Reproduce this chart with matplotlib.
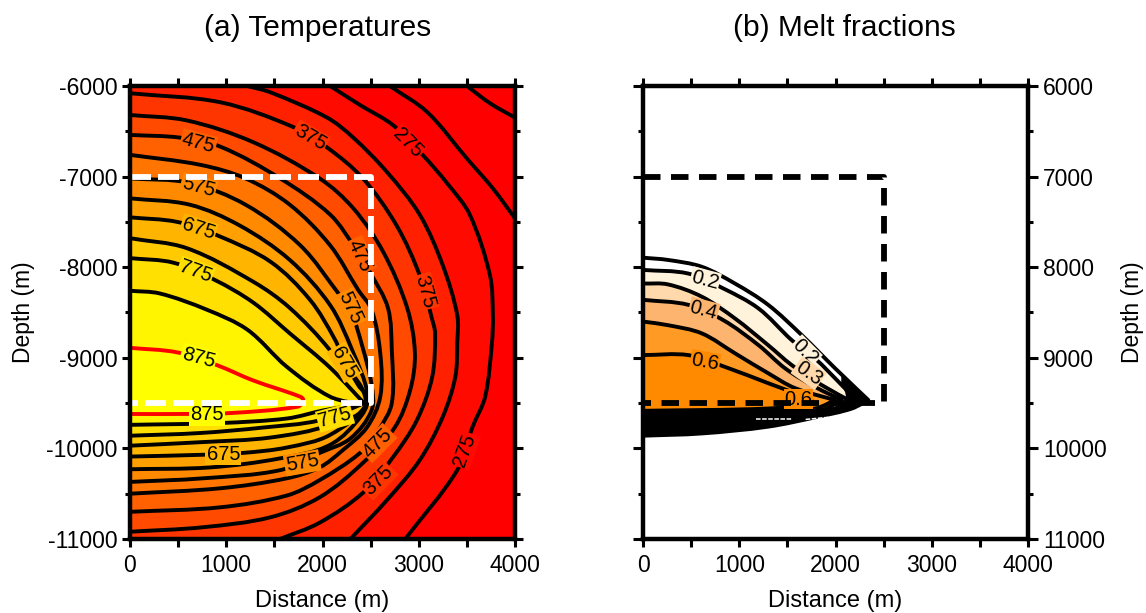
import numpy as np
import matplotlib
matplotlib.use('Agg')
import matplotlib.pyplot as plt
from matplotlib.colors import LinearSegmentedColormap
from matplotlib.path import Path
from matplotlib.patches import PathPatch

plt.rcParams['font.family'] = ['Liberation Sans', 'DejaVu Sans']

# panel (a): isotherms, (distance m, depth m)
T175 = [(3500, -6000), (3740, -6190), (4000, -6350)]
T225 = [(2700, -6000), (3090, -6290), (3500, -6800), (3770, -7130), (4000, -7460)]
T275 = [(2080, -6000), (2390, -6210), (2730, -6430), (3040, -6760), (3300, -7080), (3530, -7420), (3740, -8090),
        (3770, -8530), (3760, -8840), (3690, -9430), (3560, -9760), (3400, -10240), (2860, -11000)]
T325 = [(1220, -6000), (1460, -6070), (2050, -6350), (2320, -6570), (2670, -6950), (3010, -7420), (3250, -7980),
        (3400, -8530), (3400, -8840), (3380, -9210), (3250, -9650), (3010, -10130), (2670, -10570), (2290, -11000)]
T375 = [(0, -6080), (940, -6180), (1690, -6450), (2050, -6680), (2420, -7020), (2770, -7540), (3010, -8090),
        (3140, -8580), (3170, -8730), (3140, -9210), (2980, -9690), (2730, -10100), (2420, -10490),
        (1970, -10820), (1560, -11000)]
T425 = [(0, -6320), (590, -6380), (1280, -6620), (1970, -7020), (2320, -7350), (2630, -7830), (2880, -8450),
        (2960, -8950), (2910, -9360), (2750, -9770), (2420, -10160), (1970, -10540), (1460, -10760),
        (760, -10870), (0, -10920)]
T475 = [(0, -6540), (520, -6570), (940, -6670), (1560, -7020), (2080, -7420), (2340, -7790), (2490, -8050),
        (2680, -8450), (2720, -8920), (2720, -9500), (2580, -9800), (2390, -10050), (1970, -10350),
        (1630, -10520), (940, -10650), (0, -10700)]
T525 = [(0, -6760), (730, -6870), (1200, -7020), (1660, -7310), (2080, -7760), (2370, -8250), (2510, -8470),
        (2600, -8950), (2600, -9430), (2460, -9770), (2210, -10020), (1970, -10210), (1630, -10330),
        (940, -10440), (0, -10500)]
T575 = [(0, -7020), (620, -7070), (1200, -7310), (1770, -7760), (2180, -8310), (2290, -8470), (2410, -8860),
        (2510, -9300), (2510, -9580), (2290, -9890), (1970, -10050), (1560, -10240), (760, -10330), (0, -10370)]
T625 = [(0, -7240), (620, -7310), (1140, -7540), (1660, -7920), (2080, -8420), (2310, -8920), (2470, -9410),
        (2410, -9630), (2080, -9960), (1560, -10110), (830, -10210), (0, -10230)]
T675 = [(0, -7450), (490, -7500), (910, -7650), (1460, -7940), (1870, -8360), (2130, -8800), (2230, -9050),
        (2370, -9300), (2470, -9490), (2080, -9850), (1630, -9990), (1170, -10050), (760, -10070), (0, -10090)]
T725 = [(0, -7680), (590, -7790), (1280, -8160), (1660, -8450), (2080, -8920), (2450, -9500), (2080, -9740),
        (1460, -9880), (760, -9930), (0, -9970)]
T775 = [(0, -7900), (450, -7950), (880, -8140), (1280, -8390), (1660, -8730), (2080, -9110), (2430, -9500),
        (1970, -9690), (1380, -9770), (730, -9830), (0, -9860)]
T825 = [(0, -8260), (310, -8290), (800, -8470), (1220, -8690), (1630, -9100), (2080, -9430), (2390, -9510),
        (2010, -9580), (1630, -9670), (940, -9720), (0, -9740)]
T875 = [(0, -8890), (490, -8940), (900, -9080), (1280, -9250), (1770, -9430), (1800, -9470), (1740, -9540),
        (1040, -9610), (550, -9620), (0, -9620)]

T_LEVELS = [175, 225, 275, 325, 375, 425, 475, 525, 575, 625, 675, 725, 775, 825, 875]
T_LINES = [T175, T225, T275, T325, T375, T425, T475, T525, T575, T625, T675, T725, T775, T825, T875]

# level, x, y, rotation
T_LABELS = [(475, 710, -6630, -15), (575, 710, -7115, -15), (675, 710, -7580, -18), (775, 680, -8050, -20),
            (875, 710, -9000, -15), (875, 800, -9630, 0), (375, 1870, -6570, -30), (275, 2880, -6630, -45),
            (475, 2390, -7870, -65), (575, 2290, -8450, -65), (675, 2230, -9050, -60), (775, 2130, -9660, 15),
            (375, 3065, -8270, -75), (375, 2580, -10350, 45), (475, 2570, -9940, 45), (275, 3480, -10020, 70),
            (575, 1790, -10160, 10), (675, 970, -10070, 0)]

# panel (b): melt fraction contours
M01 = [(0, 7895), (260, 7920), (610, 7995), (955, 8180), (1300, 8415), (1650, 8750), (1995, 9115), (2340, 9465),
       (2170, 9560), (1820, 9650), (1300, 9760), (610, 9835), (0, 9860)]
M02 = [(0, 8030), (470, 8070), (835, 8235), (1200, 8455), (1545, 8805), (1805, 9025), (1995, 9225), (2170, 9410),
       (2270, 9485), (2135, 9560), (1785, 9630), (1300, 9705), (610, 9780), (0, 9795)]
M03 = [(0, 8180), (260, 8190), (610, 8325), (955, 8565), (1300, 8860), (1545, 9080), (1855, 9300), (2135, 9465),
       (1995, 9560), (1650, 9615), (1130, 9650), (0, 9735)]
M04 = [(0, 8360), (470, 8415), (835, 8585), (1200, 8860), (1475, 9115), (1785, 9320), (2065, 9465),
       (1855, 9575), (1300, 9615), (0, 9675)]
M05 = [(0, 8600), (260, 8640), (610, 8730), (955, 8950), (1300, 9170), (1580, 9335), (1995, 9465),
       (1785, 9560), (1300, 9575), (0, 9630)]
M06 = [(0, 8970), (470, 8970), (850, 9100), (1300, 9280), (1720, 9450), (1785, 9505), (1300, 9560), (0, 9585)]

M_LEVELS = [0.1, 0.2, 0.3, 0.4, 0.5, 0.6]
M_LINES = [M01, M02, M03, M04, M05, M06]
M_COLORS = ['#ffffff', '#fff3dc', '#ffd9ac', '#fdb46e', '#ff9a24', '#ff8a00']
M_LABELS = [(0.2, 645, 8140, -15), (0.4, 630, 8475, -15), (0.6, 645, 9045, -10),
            (0.2, 1685, 8935, -45), (0.3, 1720, 9170, -35), (0.6, 1615, 9455, 0)]

# the lines pile up into a solid black front along the base of the melt
M_FRONT_X = [0, 1300, 1925, 2120, 2100, 2060, 2060, 2340, 2170, 1820, 1300, 610, 0]
M_FRONT_Y = [9585, 9575, 9575, 9480, 9380, 9290, 9180, 9465, 9560, 9650, 9760, 9835, 9860]
M_SLIT_X = [[1170, 1545], [1690, 1995]]
M_SLIT_Y = [[9670, 9670], [9680, 9650]]

BOX_X = [0, 2500, 2500, 0]
BOX_Y = [7000, 7000, 9500, 9500]
X_TICKS = [0, 1000, 2000, 3000, 4000]
X_MINOR = [500, 1500, 2500, 3500]
Y_TICKS = [6000, 7000, 8000, 9000, 10000, 11000]
Y_MINOR = [6500, 7500, 8500, 9500, 10500]

W, H = 1146, 613
heat = LinearSegmentedColormap.from_list('heat', ['#ff0000', '#ff8000', '#ffff00'])


def band_color(level):
    return heat(float(min(max((level + 25 - 275) / 600, 0.0), 1.0)))


def smooth_path(line, close_to=None):
    # bezier through the read-off points, corners stay sharp where the line doubles back
    p = np.array(line, dtype=float)
    t = np.zeros_like(p)
    for i in range(len(p)):
        a = p[max(i - 1, 0)]
        b = p[min(i + 1, len(p) - 1)]
        if 0 < i < len(p) - 1 and np.dot(p[i] - a, b - p[i]) < 0:
            continue
        d = np.hypot(*(b - a))
        t[i] = (b - a) / d if d else 0
    verts = [p[0]]
    codes = [Path.MOVETO]
    for i in range(len(p) - 1):
        seg = np.hypot(*(p[i + 1] - p[i])) / 3
        verts += [p[i] + t[i] * seg, p[i + 1] - t[i + 1] * seg, p[i + 1]]
        codes += [Path.CURVE4] * 3
    if close_to:
        for c in close_to:
            verts.append(c)
            codes.append(Path.LINETO)
    return Path(verts, codes)


def style_axes(ax):
    for s in ax.spines.values():
        s.set_linewidth(3.2)
        s.set_zorder(10)
    ax.set_xticks(X_TICKS)
    ax.set_xticks(X_MINOR, minor=True)
    ax.tick_params(axis='both', which='both', direction='out', width=2.2,
                   top=True, bottom=True, left=True, right=True, labelsize=16.5)
    ax.tick_params(axis='x', which='both', length=5.5, pad=5)
    ax.tick_params(axis='y', which='major', length=6, pad=3)
    ax.tick_params(axis='y', which='minor', length=3.8)
    ax.set_xlabel('Distance (m)', fontsize=17, labelpad=10)


fig = plt.figure(figsize=(W / 100, H / 100), dpi=100)
ax1 = fig.add_axes([130 / W, 1 - 539 / H, 385 / W, 453 / H])
ax2 = fig.add_axes([643 / W, 1 - 539 / H, 385 / W, 453 / H])

# ---- temperatures
ax1.set_facecolor('#ff0000')
for level, line in zip(T_LEVELS, T_LINES):
    if level < 275:
        continue
    ax1.add_patch(PathPatch(smooth_path(line, [(0, -11000), (0, -6000)]), facecolor=band_color(level),
                            edgecolor='none', lw=0, zorder=1))
for level, line in zip(T_LEVELS, T_LINES):
    c = 'red' if level == 875 else 'black'
    ax1.add_patch(PathPatch(smooth_path(line), facecolor='none', edgecolor=c, lw=2.8, zorder=2, joinstyle='round'))
for level, x, y, rot in T_LABELS:
    ax1.text(x, y, str(level), rotation=rot, ha='center', va='center', fontsize=14.5, zorder=4,
             rotation_mode='anchor', bbox=dict(facecolor=band_color(level), edgecolor='none', pad=0.8))
ax1.plot(BOX_X, [-v for v in BOX_Y], color='white', lw=4.2, ls=(0, (3.6, 1.2)), zorder=5)
ax1.set_xlim(0, 4000)
ax1.set_ylim(-11000, -6000)
ax1.set_yticks([-v for v in Y_TICKS])
ax1.set_yticks([-v for v in Y_MINOR], minor=True)
ax1.set_yticklabels(['-%d' % v for v in Y_TICKS])
style_axes(ax1)
ax1.set_ylabel('Depth (m)', fontsize=16.5, labelpad=8)

# ---- melt fractions
for level, line, col in zip(M_LEVELS, M_LINES, M_COLORS):
    ax2.add_patch(PathPatch(smooth_path(line), facecolor=col, edgecolor='none', lw=0, zorder=1))
for line in M_LINES:
    ax2.add_patch(PathPatch(smooth_path(line), facecolor='none', edgecolor='black', lw=2.8, zorder=2,
                            joinstyle='round'))
ax2.fill(M_FRONT_X, M_FRONT_Y, color='black', lw=0, zorder=2)
for sx, sy in zip(M_SLIT_X, M_SLIT_Y):
    ax2.plot(sx, sy, color='white', lw=1.1, ls=(0, (3, 1)), zorder=3)
for level, x, y, rot in M_LABELS:
    ax2.text(x, y, '%.1f' % level, rotation=rot, ha='center', va='center', fontsize=14.5, zorder=4,
             rotation_mode='anchor', bbox=dict(facecolor=M_COLORS[M_LEVELS.index(level)], edgecolor='none', pad=0.6))
ax2.plot(BOX_X, BOX_Y, color='black', lw=4.2, ls=(0, (3.0, 1.8)), zorder=5)
ax2.set_xlim(0, 4000)
ax2.set_ylim(11000, 6000)
ax2.set_yticks(Y_TICKS)
ax2.set_yticks(Y_MINOR, minor=True)
style_axes(ax2)
ax2.tick_params(axis='y', which='major', length=7, pad=4, labelleft=False, labelright=True)
ax2.yaxis.set_label_position('right')
ax2.set_ylabel('Depth (m)', fontsize=16.5, labelpad=10)

fig.text(318 / W, 1 - 28 / H, '(a) Temperatures', ha='center', va='center', fontsize=21.5)
fig.text(844 / W, 1 - 28 / H, '(b) Melt fractions', ha='center', va='center', fontsize=21.5)

fig.savefig('out.png', dpi=100)
